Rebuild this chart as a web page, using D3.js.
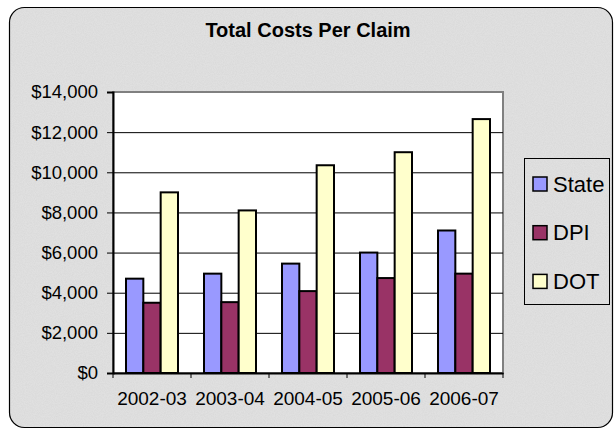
<!DOCTYPE html>
<html>
<head>
<meta charset="utf-8">
<script src="https://cdn.jsdelivr.net/npm/d3@7"></script>
<style>
  html, body { margin: 0; padding: 0; background: #ffffff; }
  svg { display: block; font-family: Arial, "Liberation Sans", sans-serif; }
</style>
</head>
<body>
<svg id="chart" width="615" height="431"></svg>
<script>
const categories = ["2002-03", "2003-04", "2004-05", "2005-06", "2006-07"];
const seriesNames = ["State", "DPI", "DOT"];
const stateValues = [4700, 4950, 5450, 6000, 7100];
const dpiValues = [3500, 3530, 4080, 4730, 4950];
const dotValues = [9000, 8100, 10350, 11000, 12650];
const yTicks = [0, 2000, 4000, 6000, 8000, 10000, 12000, 14000];
const colors = ["#9999FF", "#993366", "#FFFFCC"];
const title = "Total Costs Per Claim";

const seriesValues = [stateValues, dpiValues, dotValues];
const svg = d3.select("#chart");
const W = 615, H = 431;

// background texture
const defs = svg.append("defs");
const f = defs.append("filter").attr("id", "noise").attr("x", 0).attr("y", 0).attr("width", "100%").attr("height", "100%");
f.append("feTurbulence").attr("type", "fractalNoise").attr("baseFrequency", 0.9).attr("numOctaves", 2).attr("seed", 3).attr("result", "n");
f.append("feColorMatrix").attr("in", "n").attr("type", "matrix")
  .attr("values", "0 0 0 0 0.55  0 0 0 0 0.55  0 0 0 0 0.55  0 0 0 -1.1 0.75");
defs.append("clipPath").attr("id", "frameClip").append("rect")
  .attr("x", 9).attr("y", 7).attr("width", 604).attr("height", 421).attr("rx", 15).attr("ry", 15);

svg.append("rect").attr("x", 0).attr("y", 0).attr("width", W).attr("height", H).attr("fill", "#ffffff");
svg.append("rect").attr("x", 9).attr("y", 7).attr("width", 604).attr("height", 421).attr("rx", 15).attr("ry", 15)
  .attr("fill", "#e0e0e0");
svg.append("g").attr("clip-path", "url(#frameClip)").append("rect")
  .attr("x", 9).attr("y", 7).attr("width", 604).attr("height", 421)
  .attr("filter", "url(#noise)").attr("opacity", 0.35);
svg.append("rect").attr("x", 9.5).attr("y", 7.5).attr("width", 603).attr("height", 420).attr("rx", 15).attr("ry", 15)
  .attr("fill", "none").attr("stroke", "#000").attr("stroke-width", 1.2);

const plot = { left: 113, right: 503, top: 92, bottom: 373 };

const x0 = d3.scaleBand().domain(categories).range([plot.left, plot.right]).paddingInner(0).paddingOuter(0);
const x1 = d3.scaleBand().domain(seriesNames).range([0, x0.bandwidth()]).paddingInner(0).paddingOuter(0.75);
const y = d3.scaleLinear().domain([0, 14000]).range([plot.bottom, plot.top]);

// plot area
svg.append("rect").attr("x", plot.left).attr("y", plot.top)
  .attr("width", plot.right - plot.left).attr("height", plot.bottom - plot.top)
  .attr("fill", "#ffffff").attr("stroke", "#808080").attr("stroke-width", 2);

// gridlines
const grid = svg.append("g").attr("transform", `translate(${plot.left},0)`)
  .call(d3.axisLeft(y).tickValues(yTicks.filter(d => d > 0 && d < 14000)).tickSize(-(plot.right - plot.left)).tickFormat(""));
grid.select(".domain").remove();
grid.selectAll("line").attr("stroke", "#000").attr("stroke-width", 1);

// bars
const groups = svg.append("g").selectAll("g").data(categories).join("g")
  .attr("transform", d => `translate(${x0(d)},0)`);
groups.selectAll("rect").data((c, i) => seriesNames.map((s, k) => ({ s, k, v: seriesValues[k][i] })))
  .join("rect")
  .attr("x", d => x1(d.s))
  .attr("y", d => y(d.v))
  .attr("width", x1.bandwidth())
  .attr("height", d => y(0) - y(d.v))
  .attr("fill", d => colors[d.k])
  .attr("stroke", "#000").attr("stroke-width", 2);

// y axis
const yAxis = svg.append("g").attr("transform", `translate(${plot.left},0)`)
  .call(d3.axisLeft(y).tickValues(yTicks).tickSize(6).tickPadding(9)
    .tickFormat(d => "$" + d3.format(",")(d)));
yAxis.select(".domain").attr("stroke", "#000").attr("stroke-width", 2);
yAxis.selectAll("line").attr("stroke", "#000");
yAxis.selectAll("text").attr("font-size", 18.5).attr("fill", "#000")
  .attr("font-family", "Arial, 'Liberation Sans', sans-serif");

// x axis
const xAxis = svg.append("g").attr("transform", `translate(0,${plot.bottom})`)
  .call(d3.axisBottom(x0).tickSize(0).tickPadding(19));
xAxis.select(".domain").attr("stroke", "#000").attr("stroke-width", 2);
xAxis.selectAll("text").attr("font-size", 19).attr("fill", "#000")
  .attr("font-family", "Arial, 'Liberation Sans', sans-serif");
// boundary ticks
svg.append("g").selectAll("line").data(categories.concat(["__end"])).join("line")
  .attr("x1", (d, i) => i < categories.length ? x0(d) : x0.range()[1])
  .attr("x2", (d, i) => i < categories.length ? x0(d) : x0.range()[1])
  .attr("y1", plot.bottom).attr("y2", plot.bottom + 5)
  .attr("stroke", "#000").attr("stroke-width", 1);

// title
svg.append("text").attr("x", 308).attr("y", 37).attr("text-anchor", "middle")
  .attr("font-size", 20).attr("font-weight", "bold").attr("fill", "#000").text(title);

// legend
const lg = svg.append("g");
lg.append("rect").attr("x", 524.5).attr("y", 158.5).attr("width", 85).attr("height", 146)
  .attr("fill", "none").attr("stroke", "#000").attr("stroke-width", 1);
const items = lg.selectAll("g").data(seriesNames).join("g")
  .attr("transform", (d, i) => `translate(533, ${177 + i * 48.7})`);
items.append("rect").attr("x", 0).attr("y", 0).attr("width", 14).attr("height", 14)
  .attr("fill", (d, i) => colors[i]).attr("stroke", "#000").attr("stroke-width", 1.5);
items.append("text").attr("x", 20).attr("y", 14.5).attr("font-size", 22).attr("fill", "#000").text(d => d);
</script>
</body>
</html>
